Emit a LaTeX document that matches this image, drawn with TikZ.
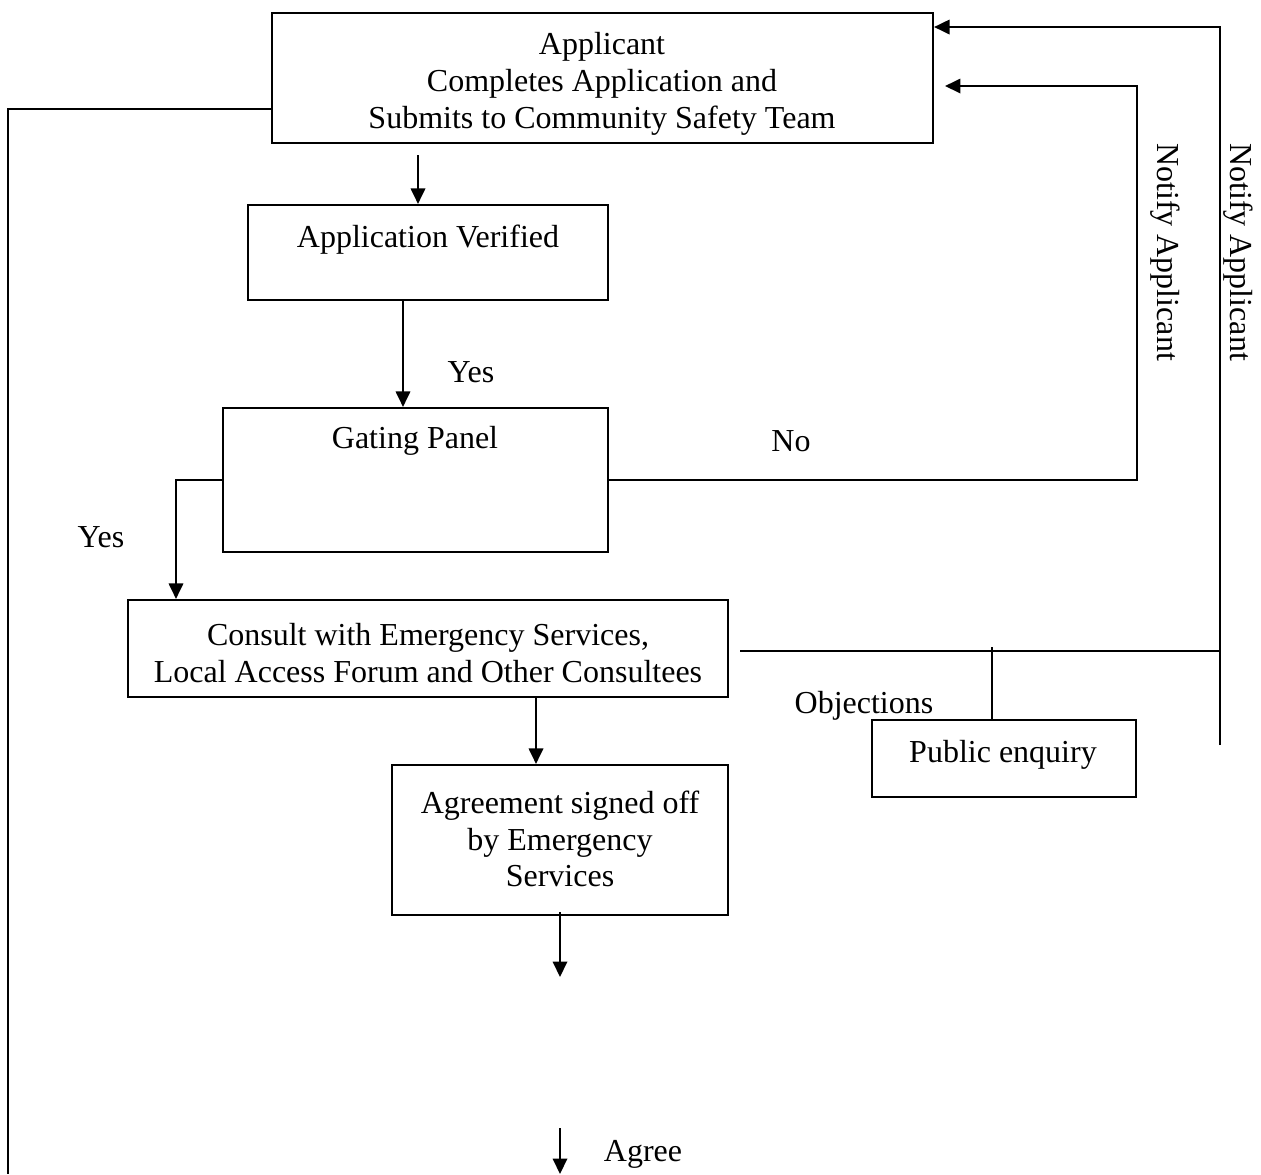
\documentclass[tikz,border=0pt]{standalone}
\usepackage{fontspec}
\setmainfont{Liberation Serif}
\usetikzlibrary{fit,arrows.meta}
\begin{document}
\begin{tikzpicture}[x=0.375pt,y=-0.375pt,
  box/.style={draw,line width=0.8pt,inner sep=0pt},
  ln/.style={line width=0.8pt},
  arr/.style={line width=0.8pt,-{Triangle[length=5.8pt,width=5.4pt]}},
  txt/.style={font=\fontsize{12}{13.8}\selectfont,align=center,inner sep=0pt}]
\useasboundingbox (0,0) rectangle (1261,1174);
% boxes
\node[box,fit={(272,13) (933,143)}] (app) {};
\node[box,fit={(248,205) (608,300)}] (ver) {};
\node[box,fit={(223,408) (608,552)}] (gate) {};
\node[box,fit={(128,600) (728,697)}] (cons) {};
\node[box,fit={(392,765) (728,915)}] (agr) {};
\node[box,fit={(872,720) (1136,797)}] (pub) {};
% texts
\node[txt] (tapp) at (602,84) {Applicant\\Completes Application and\\Submits to Community Safety Team};
\node[txt] (tver) at (428,240) {Application Verified};
\node[txt] (tgate) at (415,441) {Gating Panel};
\node[txt] (tcons) at (428,653) {Consult with Emergency Services,\\Local Access Forum and Other Consultees};
\node[txt] (tagr) at (560,839) {Agreement signed off\\by Emergency\\Services};
\node[txt] (tpub) at (1003,755) {Public enquiry};
\node[txt] (yes1) at (471,372) {Yes};
\node[txt] (yes2) at (101,537) {Yes};
\node[txt] (no) at (791,441) {No};
\node[txt] (obj) at (864,706) {Objections};
\node[txt] (agree) at (643,1154) {Agree};
\node[txt,rotate=-90] (n1) at (1165,252) {Notify Applicant};
\node[txt,rotate=-90] (n2) at (1238,252) {Notify Applicant};
% coordinates
\coordinate (a1) at (418,155);
\coordinate (a2) at (403,300);
\coordinate (g1) at (176,480);
\coordinate (r1) at (1137,480);
\coordinate (r2) at (1137,86);
\coordinate (r3) at (945,86);
\coordinate (o1) at (1220,745);
\coordinate (o2) at (1220,27);
\coordinate (h1) at (740,651);
\coordinate (h2) at (1220,651);
\coordinate (v1) at (992,647);
\coordinate (c1) at (536,697);
\coordinate (d1) at (560,912);
\coordinate (d2) at (560,977);
\coordinate (e1) at (560,1128);
\coordinate (e2) at (560,1174);
\coordinate (l1) at (8,109);
\coordinate (l2) at (8,1174);
% connectors
\draw[arr] (a1) -- (a1 |- ver.north);
\draw[arr] (a2) -- (a2 |- gate.north);
\draw[arr] (gate.west |- g1) -- (g1) -- (g1 |- cons.north);
\draw[arr] (gate.east |- r1) -- (r1) -- (r2) -- (r3);
\draw[arr] (o1) -- (o2) -- (app.east |- o2);
\draw[ln] (h1) -- (h2);
\draw[ln] (v1) -- (v1 |- pub.north);
\draw[arr] (c1) -- (c1 |- agr.north);
\draw[arr] (d1) -- (d2);
\draw[arr] (e1) -- (e2);
\draw[ln] (app.west |- l1) -- (l1) -- (l2);
\end{tikzpicture}
\end{document}
